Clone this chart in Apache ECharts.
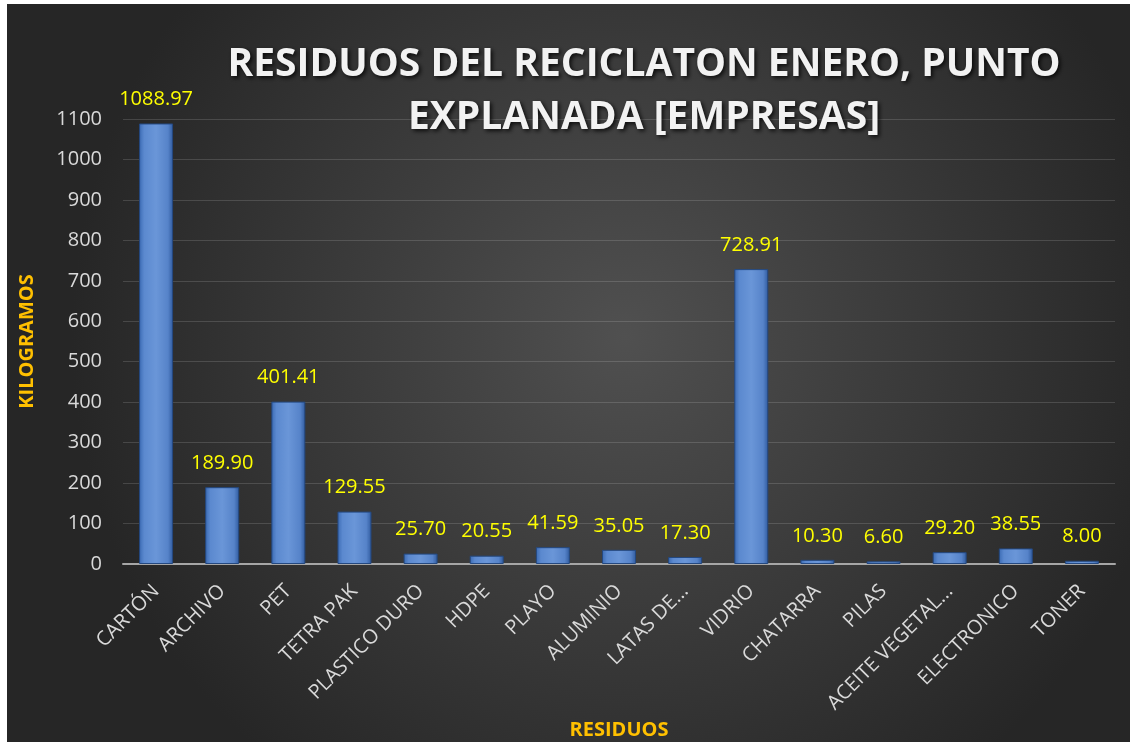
<!DOCTYPE html>
<html>
<head>
<meta charset="utf-8">
<script src="https://cdn.jsdelivr.net/npm/echarts@6/dist/echarts.min.js"></script>
<style>
  html, body { margin: 0; padding: 0; background: #fff; overflow: hidden; }
  #chart { position: absolute; left: 7px; top: 4px; width: 1123px; height: 738px; }
</style>
</head>
<body>
<div id="chart"></div>
<script>
const categories = ['CARTÓN', 'ARCHIVO', 'PET', 'TETRA PAK', 'PLASTICO DURO', 'HDPE', 'PLAYO',
  'ALUMINIO', 'LATAS DE...', 'VIDRIO', 'CHATARRA', 'PILAS', 'ACEITE VEGETAL...', 'ELECTRONICO', 'TONER']
const kilos = [1088.97, 189.90, 401.41, 129.55, 25.70, 20.55, 41.59, 35.05, 17.30, 728.91, 10.30, 6.60, 29.20, 38.55, 8.00]
const yTicks = { min: 0, max: 1100, interval: 100 }

const chart = echarts.init(document.getElementById('chart'))
const font = "'Open Sans', 'Noto Sans', sans-serif"

chart.setOption({
  backgroundColor: new echarts.graphic.RadialGradient(0.55, 0.45, 0.75, [
    { offset: 0, color: '#505050' },
    { offset: 1, color: '#262626' }
  ]),
  title: {
    text: 'RESIDUOS DEL RECICLATON ENERO, PUNTO\nEXPLANADA [EMPRESAS]',
    left: 632,
    top: 29,
    textAlign: 'center',
    textStyle: {
      color: '#f2f2f2',
      fontFamily: font,
      fontWeight: 'bold',
      fontSize: 39,
      lineHeight: 53,
      textShadowColor: 'rgba(0,0,0,0.8)',
      textShadowBlur: 4,
      textShadowOffsetX: 2,
      textShadowOffsetY: 2
    }
  },
  grid: { left: 116, right: 15, top: 115, bottom: 178, outerBoundsMode: 'none' },
  xAxis: {
    type: 'category',
    data: categories,
    name: 'RESIDUOS',
    nameLocation: 'middle',
    nameGap: 152,
    nameTextStyle: { color: '#ffc000', fontWeight: 'bold', fontSize: 20, fontFamily: font },
    axisLine: { lineStyle: { color: '#a6a6a6', width: 2 } },
    axisTick: { show: false },
    axisLabel: { color: '#d9d9d9', fontSize: 20, fontFamily: font, rotate: 45, interval: 0, margin: 24 }
  },
  yAxis: {
    type: 'value',
    min: yTicks.min,
    max: yTicks.max,
    interval: yTicks.interval,
    name: 'KILOGRAMOS',
    nameLocation: 'middle',
    nameGap: 86,
    nameTextStyle: { color: '#ffc000', fontWeight: 'bold', fontSize: 20, fontFamily: font },
    axisLine: { show: false },
    axisTick: { show: false },
    axisLabel: { color: '#d9d9d9', fontSize: 20, fontFamily: font, margin: 21, formatter: v => String(v) },
    splitLine: { lineStyle: { color: 'rgba(255,255,255,0.14)', width: 1 } }
  },
  series: [{
    type: 'bar',
    data: kilos,
    barWidth: 34,
    itemStyle: {
      color: new echarts.graphic.LinearGradient(0, 0, 1, 0, [
        { offset: 0, color: '#3a6ab3' },
        { offset: 0.15, color: '#5b89cf' },
        { offset: 0.5, color: '#6a96d8' },
        { offset: 0.85, color: '#5683c9' },
        { offset: 1, color: '#2f5a9e' }
      ]),
      borderColor: '#24487f',
      borderWidth: 1
    },
    label: {
      show: true,
      position: 'top',
      distance: 14,
      color: '#ffff00',
      fontSize: 20,
      fontFamily: font,
      formatter: p => p.value.toFixed(2)
    }
  }]
})
</script>
</body>
</html>
